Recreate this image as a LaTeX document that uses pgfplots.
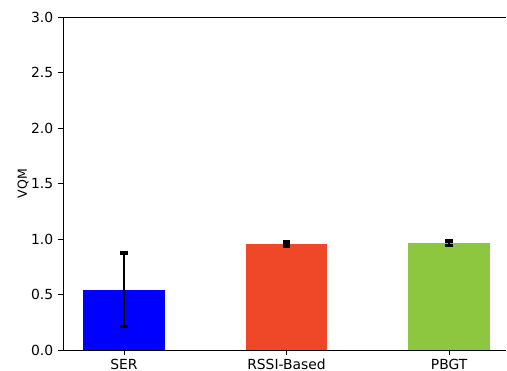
\documentclass[border=0pt]{standalone}
\usepackage{fontspec}
\setmainfont{DejaVu Sans}
\usepackage{pgfplots}
\pgfplotsset{compat=1.18}
\definecolor{cSER}{RGB}{0,0,255}
\definecolor{cRSSI}{RGB}{238,72,40}
\definecolor{cPBGT}{RGB}{141,198,63}
\begin{document}
\begin{tikzpicture}
\begin{axis}[
  at={(0,0)}, anchor=south west,
  scale only axis,
  width=318.96pt, height=239.76pt,
  xmin=-0.375, xmax=2.35,
  ymin=0, ymax=3,
  axis x line*=box, axis y line*=left,
  xtick pos=bottom, ytick pos=left,
  xtick={0,1,2},
  xticklabels={SER,RSSI-Based,PBGT},
  ytick={0,0.5,1,1.5,2,2.5,3},
  yticklabel style={/pgf/number format/.cd,fixed,fixed zerofill,precision=1},
  /pgf/number format/assume math mode=true,
  tick align=outside,
  major tick length=3.5pt,
  tick style={black, line width=0.6pt},
  axis line style={line width=0.6pt},
  ylabel={VQM},
  ylabel style={font=\small, yshift=-5pt},
  ticklabel style={font=\normalsize},
  xticklabel style={yshift=0.5pt},
  ybar, bar width=0.5, bar shift=0pt,
  every axis plot/.append style={draw=none},
  error bars/y dir=both, error bars/y explicit,
  error bars/error bar style={black, line width=1.5pt},
  error bars/error mark options={rotate=90, mark size=2.6pt, line width=2.4pt, black},
]
\addplot[fill=cSER] coordinates {(0,0.543) +- (0,0.33)};
\addplot[fill=cRSSI] coordinates {(1,0.955) +- (0,0.019)};
\addplot[fill=cPBGT] coordinates {(2,0.963) +- (0,0.019)};
\end{axis}
\pgfresetboundingbox
\path (-45.36pt,-15.12pt) rectangle (319.68pt,252pt);
\end{tikzpicture}
\end{document}
